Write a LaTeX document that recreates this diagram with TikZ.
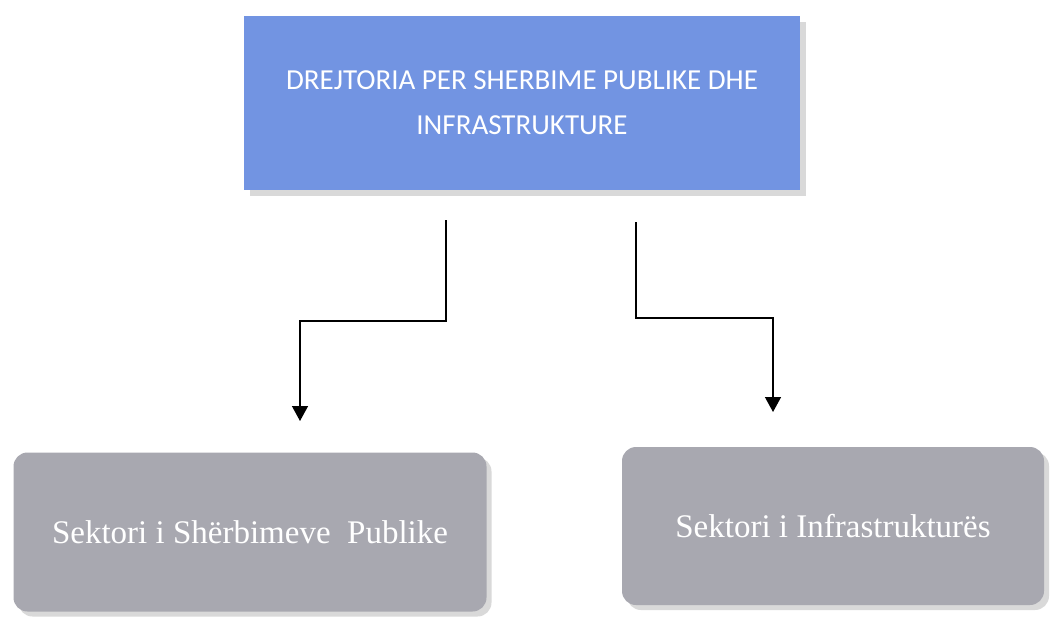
\documentclass[tikz,border=0pt]{standalone}
\usepackage{fontspec}
\setmainfont{Liberation Serif}
\newfontfamily\headfont{Carlito}
\usetikzlibrary{arrows.meta,shadows}
\definecolor{dirblue}{RGB}{114,148,226}
\definecolor{secgray}{RGB}{168,168,176}
\tikzset{
  dirbox/.style={fill=dirblue,text=white,align=center,inner sep=0pt,
    font=\headfont\fontsize{29}{45}\selectfont,
    drop shadow={shadow xshift=6pt,shadow yshift=-6pt,fill=gray!30,opacity=1}},
  secbox/.style={fill=secgray,text=white,rounded corners=14pt,inner sep=0pt,
    font=\fontsize{33}{36}\selectfont,
    drop shadow={shadow xshift=5pt,shadow yshift=-5pt,fill=gray!30,opacity=1}},
  flow/.style={-{Triangle[length=15pt,width=16pt]},line width=1.4pt}
}
\begin{document}
\begin{tikzpicture}[x=1pt,y=-1pt]
    \useasboundingbox (0,0) rectangle (1051,631);
    \node[dirbox,minimum width=556pt,minimum height=173pt] (dir) at (522,103)
      {DREJTORIA PER SHERBIME PUBLIKE DHE\\INFRASTRUKTURE};

    \node[secbox,minimum width=473pt,minimum height=159pt] (sps) at (250,532)
      {Sektori i Shërbimeve\ \ Publike};
    \node[secbox,minimum width=422pt,minimum height=158pt] (sinf) at (833,526)
      {Sektori i Infrastrukturës};

    \coordinate (l1) at (446,220);
    \coordinate (l2) at (300,421);
    \coordinate (r1) at (636,222);
    \coordinate (r2) at (773,412);
    \draw[flow] (l1) -- ++(0,101) -| (l2);
    \draw[flow] (r1) -- ++(0,96) -| (r2);
\end{tikzpicture}
\end{document}
